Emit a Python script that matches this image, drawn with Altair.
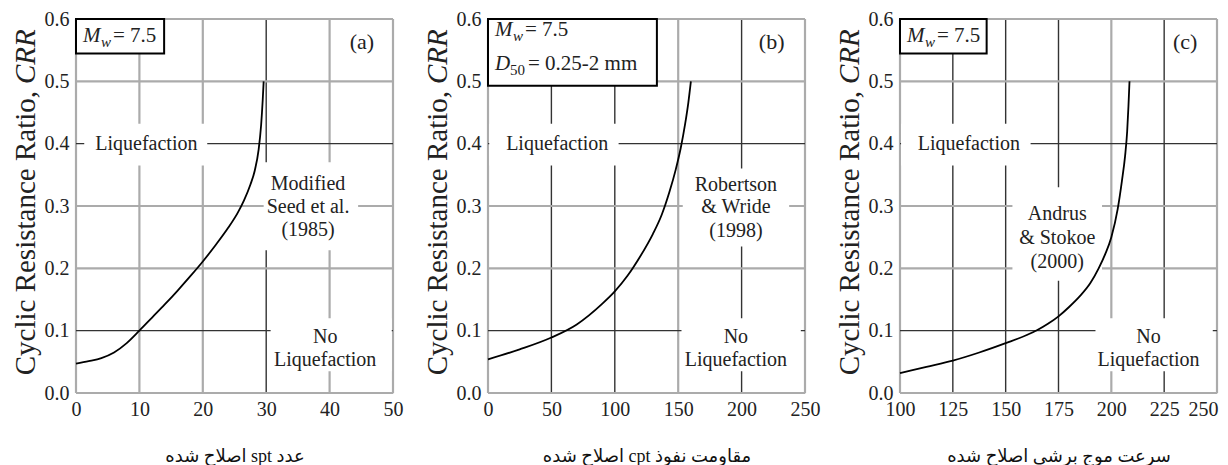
import altair as alt
import pandas as pd

FONT = "Liberation Serif, Times New Roman, Tinos, DejaVu Serif, serif"
TITLE_FONT = "Liberation Serif, DejaVu Sans, sans-serif"
W, H = 317, 374
SPACING = 95

# ---------------- data ----------------
# (a) SPT
a_x = [0, 2, 4, 6, 8, 10, 12, 14, 16, 18, 20, 22, 24, 25.5, 26.5, 27.5, 28.2, 28.8, 29.2, 29.45, 29.6]
a_y = [0.047, 0.051, 0.056, 0.065, 0.08, 0.1, 0.121, 0.142, 0.164, 0.187, 0.211, 0.237, 0.265, 0.289,
       0.309, 0.334, 0.357, 0.39, 0.43, 0.47, 0.5]
# (b) CPT
b_x = [0, 25, 50, 70, 90, 100, 110, 120, 130, 137, 143, 148, 152, 155.5, 158, 160]
b_y = [0.054, 0.07, 0.089, 0.11, 0.143, 0.163, 0.188, 0.219, 0.255, 0.286, 0.322, 0.358, 0.393, 0.432,
       0.466, 0.5]
# (c) Vs
c_x = [100, 112.5, 125, 137.5, 150, 160, 165, 170, 175, 180, 185, 190, 194, 197, 200, 203, 205, 206.5,
       207.5, 208.1, 208.6]
c_y = [0.032, 0.042, 0.052, 0.065, 0.08, 0.093, 0.101, 0.111, 0.123, 0.138, 0.155, 0.176, 0.2, 0.222,
       0.25, 0.295, 0.34, 0.38, 0.42, 0.46, 0.5]

y_ticks = [0.0, 0.1, 0.2, 0.3, 0.4, 0.5, 0.6]
y_shade = ["light", "dark", "light", "light", "dark", "light", "light"]

a_ticks = [0, 10, 20, 30, 40, 50]
a_shade = ["light", "light", "light", "dark", "light", "light"]
b_ticks = [0, 50, 100, 150, 200, 250]
b_shade = ["light", "dark", "dark", "light", "dark", "light"]
c_ticks = [100, 125, 150, 175, 200, 225, 250]
c_shade = ["light", "dark", "dark", "dark", "light", "dark", "light"]

x_titles = ["عدد  spt اصلاح شده", "مقاومت نفوذ cpt اصلاح شده", "سرعت موج برشی اصلاح شده"]
panel_tags = ["(a)", "(b)", "(c)"]

# text-background (white) boxes: x1, x2, y1, y2
a_bg = [(1.3, 20.7, 0.365, 0.432), (29.6, 44.5, 0.229, 0.37), (30.7, 49.8, 0.035, 0.12)]
b_bg = [(1, 103, 0.365, 0.432), (153.6, 237.5, 0.235, 0.36), (152.6, 246.7, 0.035, 0.12)]
c_bg = [(100.5, 161.8, 0.365, 0.432), (153.2, 195.6, 0.18, 0.33), (192.5, 248, 0.035, 0.12)]

# text labels: text, x, y
a_txt = [("Liquefaction", 11.1, 0.4), ("Modified", 36.6, 0.335), ("Seed et al.", 36.6, 0.298),
         ("(1985)", 36.6, 0.261), ("No", 39.3, 0.09), ("Liquefaction", 39.3, 0.053)]
b_txt = [("Liquefaction", 54.6, 0.4), ("Robertson", 195.5, 0.333), ("& Wride", 195.5, 0.298),
         ("(1998)", 195.5, 0.26), ("No", 195.5, 0.09), ("Liquefaction", 195.5, 0.053)]
c_txt = [("Liquefaction", 132.6, 0.4), ("Andrus", 174.4, 0.287), ("& Stokoe", 174.4, 0.249),
         ("(2000)", 174.4, 0.21), ("No", 217.6, 0.09), ("Liquefaction", 217.6, 0.053)]

tag_pos = [(45.1, 0.5625), (223.7, 0.5625), (234.9, 0.5625)]
# legend box: x1, x2, y1, y2
legend_box = [(0, 13.9, 0.5445, 0.6), (0, 133.2, 0.493, 0.6), (100, 141, 0.5445, 0.6)]


def panel(i, xs_vals, ys_vals, ticks, shade, bg, txt, dom, two_lines, last=False):
    xs = alt.Scale(domain=dom, nice=False, zero=False)
    ys = alt.Scale(domain=[0, 0.6], nice=False, zero=False)
    extra = {}
    if last:
        extra = dict(
            labelAlign={"condition": {"test": f"datum.value == {dom[1]}", "value": "right"}, "value": "center"},
            labelOffset={"condition": {"test": f"datum.value == {dom[1]}", "value": 1}, "value": 0},
        )
    xaxis = alt.Axis(values=ticks, title="\u202b" + x_titles[i] + "\u202c", titleFont=TITLE_FONT,
                     titleFontSize=18, titleFontWeight="normal", titleColor="#111", titlePadding=28,
                     labelFont=FONT, labelFontSize=20, labelColor="#222", labelPadding=6,
                     labelFlush=False, labelOverlap=False, ticks=False, domain=False, grid=False, **extra)
    yaxis = alt.Axis(values=y_ticks, format=".1f", title=None, labelFont=FONT, labelFontSize=20,
                     labelColor="#222", labelPadding=7, labelFlush=False, labelOverlap=False,
                     ticks=False, domain=False, grid=False)

    def X(f):
        return alt.X(f, type="quantitative", scale=xs, axis=xaxis)

    def Y(f):
        return alt.Y(f, type="quantitative", scale=ys, axis=yaxis)

    shade_color = alt.Color("shade:N", scale=alt.Scale(domain=["dark", "light"], range=["#333333", "#ababab"]), legend=None)
    shade_size = alt.Size("shade:N", scale=alt.Scale(domain=["dark", "light"], range=[1.4, 2.2]), legend=None)

    vgrid = alt.Chart(pd.DataFrame({"x": ticks, "shade": shade})).mark_rule().encode(
        x=X("x"), color=shade_color, size=shade_size)
    hgrid = alt.Chart(pd.DataFrame({"y": y_ticks, "shade": y_shade})).mark_rule().encode(
        y=Y("y"), color=shade_color, size=shade_size)

    bgdf = pd.DataFrame(bg, columns=["x1", "x2", "y1", "y2"])
    bgl = alt.Chart(bgdf).mark_rect(color="white").encode(x=X("x1"), x2="x2", y=Y("y1"), y2="y2")

    lb = legend_box[i]
    box = alt.Chart(pd.DataFrame([lb], columns=["x1", "x2", "y1", "y2"])).mark_rect(
        fill="white", stroke="black", strokeWidth=2).encode(x=X("x1"), x2="x2", y=Y("y1"), y2="y2")

    curve = alt.Chart(pd.DataFrame({"x": xs_vals, "y": ys_vals})).mark_line(
        color="black", strokeWidth=1.8, interpolate="monotone").encode(x=X("x"), y=Y("y"))

    tdf = pd.DataFrame(txt, columns=["t", "x", "y"])
    texts = alt.Chart(tdf).mark_text(font=FONT, fontSize=20, color="#222", baseline="middle").encode(
        x=X("x"), y=Y("y"), text="t:N")

    tg = tag_pos[i]
    tag = alt.Chart(pd.DataFrame({"t": [panel_tags[i]], "x": [tg[0]], "y": [tg[1]]})).mark_text(
        font=FONT, fontSize=22, color="#222", baseline="middle").encode(x=X("x"), y=Y("y"), text="t:N")

    def ptext(s, x, y, size=21, italic=False):
        return alt.Chart(pd.DataFrame({"t": [s]})).mark_text(
            font=FONT, fontSize=size, fontStyle="italic" if italic else "normal", color="#222",
            align="left", baseline="alphabetic").encode(text="t:N", x=alt.value(x), y=alt.value(y))

    y1 = 17 if two_lines else 23
    lab = [ptext("M", 7, y1, italic=True), ptext("w", 25, y1 + 5, size=15, italic=True),
           ptext("= 7.5", 37, y1)]
    if two_lines:
        lab += [ptext("D", 7, 51, italic=True), ptext("50", 22, 56, size=15), ptext("= 0.25-2 mm", 40, 51)]

    yt1 = alt.Chart(pd.DataFrame({"t": ["Cyclic Resistance Ratio,"]})).mark_text(
        font=FONT, fontSize=29, color="#222", angle=270, align="right", baseline="middle").encode(
        text="t:N", x=alt.value(-50), y=alt.value(72))
    yt2 = alt.Chart(pd.DataFrame({"t": ["CRR"]})).mark_text(
        font=FONT, fontSize=29, fontStyle="italic", color="#222", angle=270, align="left",
        baseline="middle").encode(text="t:N", x=alt.value(-50), y=alt.value(65))

    return alt.layer(vgrid, hgrid, bgl, box, curve, texts, tag, *lab, yt1, yt2).properties(width=W, height=H)


pa = panel(0, a_x, a_y, a_ticks, a_shade, a_bg, a_txt, [0, 50], False)
pb = panel(1, b_x, b_y, b_ticks, b_shade, b_bg, b_txt, [0, 250], True)
pc = panel(2, c_x, c_y, c_ticks, c_shade, c_bg, c_txt, [100, 250], False, last=True)

chart = alt.hconcat(pa, pb, pc, spacing=SPACING, bounds="flush").properties(
    padding={"top": 0, "left": 3, "right": 0, "bottom": 0}
).configure_view(stroke="black", strokeWidth=2).configure(background="white")

chart.save("out.html", embed_options={"renderer": "svg", "actions": False})
